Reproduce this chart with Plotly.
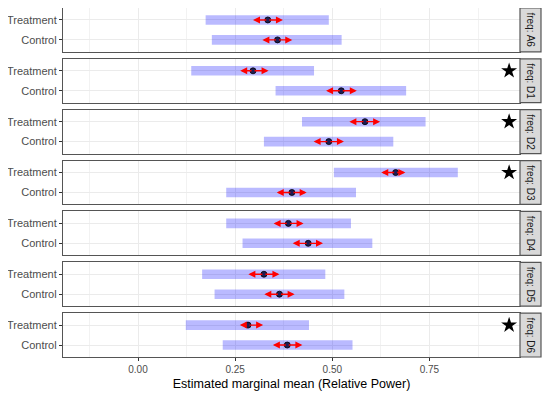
import plotly.graph_objects as go
from plotly.subplots import make_subplots

freq = ["A6", "D1", "D2", "D3", "D4", "D5", "D6"]
groups = ["Control", "Treatment"]

treat_mean = [0.334, 0.296, 0.584, 0.663, 0.387, 0.324, 0.283]
treat_lcl = [0.174, 0.137, 0.422, 0.504, 0.227, 0.165, 0.123]
treat_ucl = [0.491, 0.453, 0.740, 0.823, 0.548, 0.482, 0.440]
treat_arrow_lo = [0.296, 0.263, 0.544, 0.626, 0.349, 0.284, 0.262]
treat_arrow_hi = [0.373, 0.336, 0.623, 0.688, 0.426, 0.364, 0.322]

ctrl_mean = [0.359, 0.523, 0.491, 0.396, 0.438, 0.364, 0.384]
ctrl_lcl = [0.190, 0.354, 0.324, 0.227, 0.269, 0.197, 0.218]
ctrl_ucl = [0.524, 0.690, 0.657, 0.561, 0.603, 0.531, 0.552]
ctrl_arrow_lo = [0.320, 0.484, 0.452, 0.357, 0.398, 0.325, 0.347]
ctrl_arrow_hi = [0.397, 0.563, 0.530, 0.434, 0.476, 0.403, 0.423]

significant = [False, True, True, True, False, False, True]
star_x = 0.955

x_ticks = [0.0, 0.25, 0.5, 0.75]
x_ticktext = ["0.00", "0.25", "0.50", "0.75"]
x_range = [-0.193, 0.983]
x_title = "Estimated marginal mean (Relative Power)"

# page body adds an ~8px offset; size the figure to compensate
OFF = 8
W, H = 550 - OFF, 396 - OFF
ML, MT = 63 - OFF, 0
MR = W - (541 - OFF)
MB = H - (357 - OFF)
plot_w = W - ML - MR
panel_right = (520 - 63) / plot_w

n = len(freq)
plot_h = H - MT - MB
fig = make_subplots(rows=n, cols=1, shared_xaxes=True, vertical_spacing=7 / plot_h)

Y_T, Y_C = 2, 1
annotations = []
for i in range(n):
    r = i + 1
    xr = "x" if r == 1 else f"x{r}"
    yr = "y" if r == 1 else f"y{r}"
    lcl = [ctrl_lcl[i], treat_lcl[i]]
    ucl = [ctrl_ucl[i], treat_ucl[i]]
    mean = [ctrl_mean[i], treat_mean[i]]
    alo = [ctrl_arrow_lo[i], treat_arrow_lo[i]]
    ahi = [ctrl_arrow_hi[i], treat_arrow_hi[i]]
    ys = [Y_C, Y_T]
    fig.add_trace(go.Bar(orientation="h", y=ys, base=lcl,
                         x=[u - l for u, l in zip(ucl, lcl)], width=0.48,
                         marker=dict(color="rgba(0,0,255,0.27)", line=dict(width=0)),
                         showlegend=False, hoverinfo="skip"), row=r, col=1)
    for k in range(2):
        for tip in (alo[k], ahi[k]):
            annotations.append(dict(x=tip, y=ys[k], ax=mean[k], ay=ys[k],
                                    xref=xr, yref=yr, axref=xr, ayref=yr,
                                    text="", showarrow=True, arrowhead=2,
                                    arrowsize=1.0, arrowwidth=1.4,
                                    arrowcolor="#ff0000", standoff=0, startstandoff=0))
    fig.add_trace(go.Scatter(x=mean, y=ys, mode="markers",
                             marker=dict(size=6, color="#1c1c55",
                                         line=dict(color="#000000", width=0.8)),
                             showlegend=False, hoverinfo="skip"), row=r, col=1)
    if significant[i]:
        fig.add_trace(go.Scatter(x=[star_x], y=[Y_T], mode="markers",
                                 marker=dict(symbol="star", size=12, color="#000000"),
                                 showlegend=False, hoverinfo="skip"), row=r, col=1)

    bottom = (r == n)
    fig.update_xaxes(row=r, col=1, range=x_range, domain=[0, panel_right],
                     tickvals=x_ticks, ticktext=x_ticktext, automargin=False,
                     showticklabels=bottom, ticks="outside" if bottom else "",
                     ticklen=3, tickcolor="#333333",
                     showgrid=True, gridcolor="#ebebeb", gridwidth=1,
                     minor=dict(dtick=0.125, tick0=0.125, showgrid=True,
                                gridcolor="#f2f2f2", gridwidth=0.6),
                     showline=True, mirror=True, linecolor="#555555", linewidth=1.2,
                     zeroline=False,
                     tickfont=dict(size=10, color="#4d4d4d"))
    fig.update_yaxes(row=r, col=1, range=[0.4, 2.6], tickvals=[Y_C, Y_T],
                     ticktext=groups, ticks="outside", ticklen=3, tickcolor="#333333",
                     showgrid=True, gridcolor="#ebebeb", gridwidth=1, automargin=False,
                     showline=True, mirror=True, linecolor="#555555", linewidth=1.2,
                     zeroline=False, fixedrange=True,
                     tickfont=dict(size=11, color="#4d4d4d"))

    ydom = f"{yr} domain"
    fig.add_shape(type="rect", xref="paper", yref=ydom, x0=panel_right, x1=1.0,
                  y0=0, y1=1, fillcolor="#d9d9d9",
                  line=dict(color="#555555", width=1.2), layer="above")
    annotations.append(dict(xref="paper", yref=ydom, x=(panel_right + 1) / 2, y=0.5,
                            text=f"freq: {freq[i]}", textangle=90, showarrow=False,
                            font=dict(size=10, color="#1a1a1a"),
                            xanchor="center", yanchor="middle"))

fig.update_xaxes(row=n, col=1, title=dict(text=x_title, standoff=5,
                                           font=dict(size=12.5, color="#000000")))

fig.update_layout(width=W, height=H, margin=dict(l=ML, r=MR, t=MT, b=MB),
                  plot_bgcolor="#ffffff", paper_bgcolor="#ffffff",
                  font=dict(family="Liberation Sans, Arial, sans-serif"),
                  barmode="overlay", annotations=annotations, showlegend=False)

fig.write_html("out.html")
